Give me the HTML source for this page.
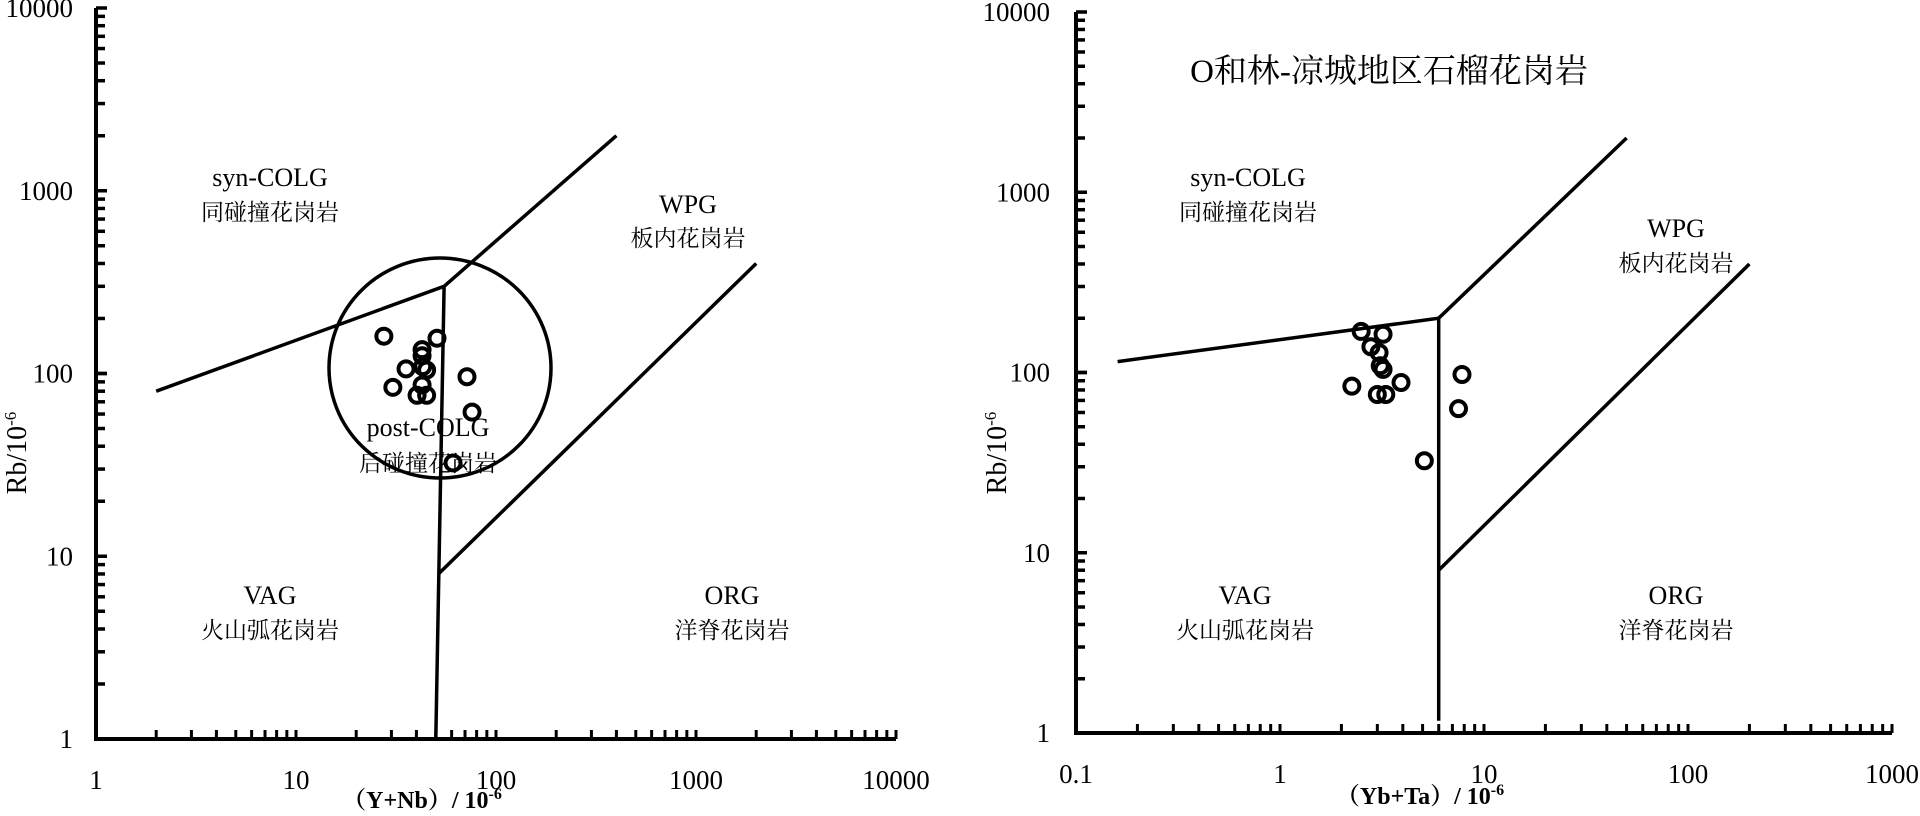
<!DOCTYPE html>
<html><head><meta charset="utf-8">
<style>
html,body{margin:0;padding:0;background:#fff;}
svg{display:block;}
text{font-family:"Liberation Serif","Noto Serif CJK SC","Noto Sans CJK SC",serif;fill:#000;}
</style></head>
<body>
<svg id="chart" width="1920" height="816" viewBox="0 0 1920 816" xmlns="http://www.w3.org/2000/svg">
</svg>
<script>
// Left chart data (Y+Nb vs Rb)
const leftX = [27.5, 50.7, 42.7, 42.7, 35.5, 43, 45, 30.5, 42.7, 40.3, 45, 71.6, 75.9, 61];
const leftY = [160, 156, 135, 125, 106, 109, 104.5, 84, 86.5, 76, 76, 96, 61.5, 32.4];
// Right chart data (Yb+Ta vs Rb)
const rightX = [2.5, 3.2, 2.79, 3.06, 3.1, 3.2, 2.25, 3.92, 3.0, 3.3, 7.8, 7.5, 5.1];
const rightY = [169, 163, 139, 129, 109, 104, 84, 88, 75.5, 75.5, 97.5, 63, 32.4];
// Boundary lines
const leftLines = [
  [[2,80],[55,300],[400,2000]],
  [[55,300],[50,1]],
  [[51.5,8],[2000,400]]
];
const rightLines = [
  [[0.16,115],[6,200],[50,2000]],
  [[6,200],[6,1.17]],
  [[6,8],[200,400]]
];
const leftXTicks = ["1","10","100","1000","10000"];
const rightXTicks = ["0.1","1","10","100","1000"];
const yTicks = ["1","10","100","1000","10000"];

const NS = "http://www.w3.org/2000/svg";
const svg = document.getElementById('chart');
function mk(tag, attrs, parent){
  const e = document.createElementNS(NS, tag);
  for (const k in attrs) e.setAttribute(k, attrs[k]);
  (parent||svg).appendChild(e);
  return e;
}
function makeChart(cfg){
  const g = mk('g', {});
  
  
  const sx = v => cfg.x0 + (Math.log10(v) - cfg.xmin) * cfg.xdec;
  const sy = v => cfg.y0 - Math.log10(v) * cfg.ydec;
  const top = sy(10000), right = sx(Math.pow(10, cfg.xmin + 4));
  const ax = mk('path', {d:`M${cfg.x0},${top} L${cfg.x0},${cfg.y0} L${right},${cfg.y0}`, fill:'none', stroke:'#000', 'stroke-width':4}, g);
  
  
  for (let d=0; d<4; d++){
    for (let m=1; m<=10; m++){
      const v = Math.pow(10,d)*m;
      const y = sy(v);
      const len = (m===1||m===10)?11:9;
      const t = mk('line', {x1:cfg.x0, x2:cfg.x0+len, y1:y, y2:y, stroke:'#000', 'stroke-width':3.5}, g);
      
      
    }
  }
  for (let d=0; d<4; d++){
    for (let m=2; m<=10; m++){
      const v = Math.pow(10, cfg.xmin + d)*m;
      const x = sx(v);
      const t = mk('line', {x1:x, x2:x, y1:cfg.y0, y2:cfg.y0-9, stroke:'#000', 'stroke-width':3}, g);
      
      
    }
  }
  yTicks.forEach((s,i)=>{
    const t = mk('text', {x:cfg.ylabX, y:sy(Math.pow(10,i))+9, 'text-anchor':'end', 'font-size':27}, g);
    t.textContent = s;
    
    
  });
  cfg.xticks.forEach((s,i)=>{
    const t = mk('text', {x:sx(Math.pow(10,cfg.xmin+i)), y:cfg.xlabY, 'text-anchor':'middle', 'font-size':27}, g);
    t.textContent = s;
    
    
  });
  cfg.lines.forEach(pts=>{
    const d = pts.map((p,i)=>(i?'L':'M')+sx(p[0]).toFixed(1)+','+sy(p[1]).toFixed(1)).join(' ');
    const l = mk('path', {d, fill:'none', stroke:'#000', 'stroke-width':3.5}, g);
    
    
  });
  if (cfg.ellipse){
    const e = mk('ellipse', {cx:cfg.ellipse[0], cy:cfg.ellipse[1], rx:cfg.ellipse[2], ry:cfg.ellipse[3], fill:'none', stroke:'#000', 'stroke-width':3.5}, g);
    
    
  }
  cfg.labels.forEach(L=>{
    const t = mk('text', {x:L[0], y:L[1], 'text-anchor':'middle', 'font-size':L[3]||26}, g);
    t.textContent = L[2];
    
    
  });
  cfg.px.forEach((v,i)=>{
    const c = mk('circle', {cx:sx(v), cy:sy(cfg.py[i]), r:7.5, fill:'none', stroke:'#000', 'stroke-width':4}, g);
    
    
  });
  const xt = mk('text', {x:cfg.xtitle[0], y:cfg.xtitle[1], 'text-anchor':'middle', 'font-size':24, 'font-weight':'bold'}, g);
  xt.innerHTML = cfg.xtitle[2] + '/ 10<tspan dy="-9" font-size="16">-6</tspan>';
  
  
  const yt = mk('text', {x:0, y:0, 'text-anchor':'middle', 'font-size':28, transform:`translate(${cfg.ytitleX},453) rotate(-90)`}, g);
  yt.innerHTML = 'Rb/10<tspan dy="-10" font-size="17">-6</tspan>';
  
  
}
makeChart({name:'left-chart', x0:96, y0:739, ydec:182.75, xdec:200, xmin:0,
  xticks:leftXTicks, ylabX:73, xlabY:789, lines:leftLines, px:leftX, py:leftY,
  ellipse:[440,368,111,110],
  labels:[[270,186,'syn-COLG'],[270,220,'同碰撞花岗岩',23],[688,213,'WPG'],[688,246,'板内花岗岩',23],
          [270,604,'VAG'],[270,638,'火山弧花岗岩',23],[732,604,'ORG'],[732,638,'洋脊花岗岩',23],
          [428,436,'post-COLG'],[428,471,'后碰撞花岗岩',23]],
  xtitle:[422,808,'（Y+Nb）'], ytitleX:26});
makeChart({name:'right-chart', x0:1076, y0:733, ydec:180.25, xdec:204, xmin:-1,
  xticks:rightXTicks, ylabX:1050, xlabY:783, lines:rightLines, px:rightX, py:rightY,
  labels:[[1248,186,'syn-COLG'],[1248,220,'同碰撞花岗岩',23],[1676,237,'WPG'],[1676,271,'板内花岗岩',23],
          [1245,604,'VAG'],[1245,638,'火山弧花岗岩',23],[1676,604,'ORG'],[1676,638,'洋脊花岗岩',23],
          [1389,82,'O和林-凉城地区石榴花岗岩',33]],
  xtitle:[1420,804,'（Yb+Ta）'], ytitleX:1006});
</script>
</body></html>
